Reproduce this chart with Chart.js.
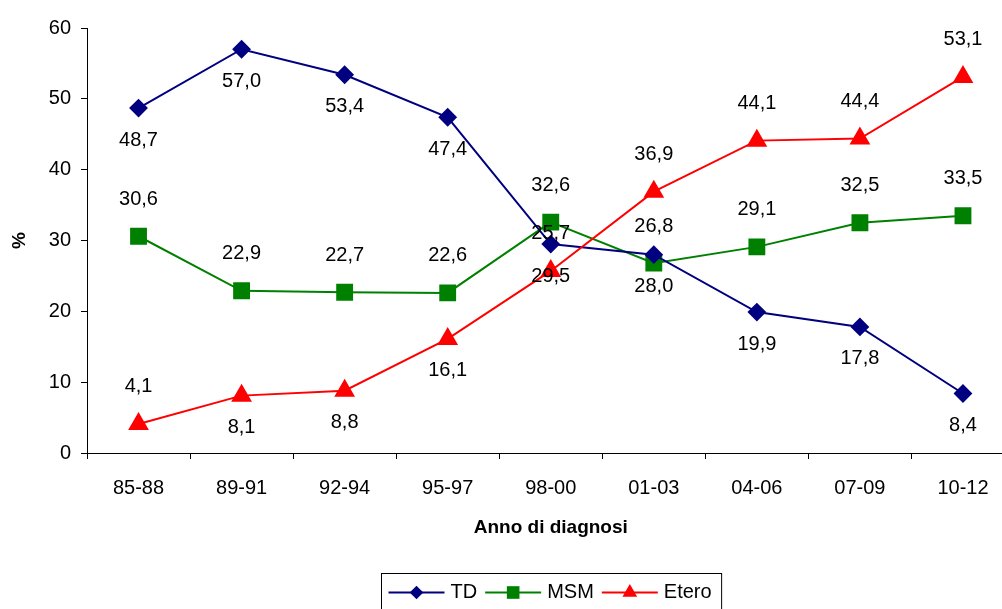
<!DOCTYPE html>
<html>
<head>
<meta charset="utf-8">
<script src="https://cdn.jsdelivr.net/npm/chart.js@4"></script>
<style>
  html, body { margin: 0; padding: 0; overflow: hidden; background: #fff; }
  #wrap { position: relative; width: 1002px; height: 609px; overflow: hidden; }
  #inner { position: absolute; left: 0; top: 0; width: 1100px; height: 609px; }
  #chart { display: block; }
</style>
</head>
<body>
<div id="wrap"><div id="inner"><canvas id="chart" width="1016" height="609"></canvas></div></div>
<script>
// data
const categories = ["85-88", "89-91", "92-94", "95-97", "98-00", "01-03", "04-06", "07-09", "10-12"];
const tdValues = [48.7, 57.0, 53.4, 47.4, 29.5, 28.0, 19.9, 17.8, 8.4];
const msmValues = [30.6, 22.9, 22.7, 22.6, 32.6, 26.8, 29.1, 32.5, 33.5];
const eteroValues = [4.1, 8.1, 8.8, 16.1, 25.7, 36.9, 44.1, 44.4, 53.1];
const yTicks = [0, 10, 20, 30, 40, 50, 60];

// where each value label sits relative to its point
const tdLabelSide = ["below", "below", "below", "below", "below", "below", "below", "below", "below"];
const msmLabelSide = ["above", "above", "above", "above", "above", "above", "above", "above", "above"];
const eteroLabelSide = ["above", "below", "below", "below", "above", "above", "above", "above", "above"];

const FONT = '"Liberation Sans", Arial, sans-serif';
Chart.defaults.font.family = FONT;
Chart.defaults.font.size = 20;
Chart.defaults.color = "#000";

// value labels (Excel style, comma decimal)
const valueLabels = {
    id: "valueLabels",
    afterDatasetsDraw(chart) {
        const ctx = chart.ctx;
        ctx.save();
        ctx.font = "20px " + FONT;
        ctx.fillStyle = "#000";
        ctx.textAlign = "center";
        ctx.textBaseline = "middle";
        chart.data.datasets.forEach((ds, i) => {
            const meta = chart.getDatasetMeta(i);
            meta.data.forEach((pt, j) => {
                const off = ds.labelSide[j] === "above" ? -37 : 32;
                ctx.fillText(ds.data[j].toFixed(1).replace(".", ","), pt.x, pt.y + off);
            });
        });
        ctx.restore();
    }
};

// boxed legend with line + marker samples, centred under the plot
const boxLegend = {
    id: "boxLegend",
    afterDraw(chart) {
        const ctx = chart.ctx;
        const area = chart.chartArea;
        ctx.save();
        ctx.font = "20px " + FONT;
        const lineLen = 56, gapText = 6, gapItem = 8, padL = 7, padR = 10;
        const items = chart.data.datasets.map(ds => ({ ds, w: ctx.measureText(ds.label).width }));
        let total = padL + padR + gapItem * (items.length - 1);
        items.forEach(it => { total += lineLen + gapText + it.w; });
        const left = Math.round((area.left + area.right) / 2 - total / 2) + 0.5;
        const top = chart.height - 36 + 0.5;
        ctx.strokeStyle = "#000";
        ctx.lineWidth = 1;
        ctx.strokeRect(left, top, total, 40);
        const cy = top + 19;
        let x = left + padL;
        items.forEach(it => {
            const ds = it.ds;
            ctx.strokeStyle = ds.borderColor;
            ctx.lineWidth = 2;
            ctx.beginPath();
            ctx.moveTo(x, cy);
            ctx.lineTo(x + lineLen, cy);
            ctx.stroke();
            ctx.fillStyle = ds.pointBackgroundColor;
            Chart.helpers.drawPoint(ctx, { pointStyle: ds.pointStyle, radius: ds.pointRadius * 0.85, rotation: 0, borderWidth: 0 }, x + lineLen / 2, cy);
            ctx.fillStyle = "#000";
            ctx.textBaseline = "middle";
            ctx.textAlign = "left";
            ctx.fillText(ds.label, x + lineLen + gapText, cy);
            x += lineLen + gapText + it.w + gapItem;
        });
        ctx.restore();
    }
};

const ctx = document.getElementById("chart").getContext("2d");
const chart = new Chart(ctx, {
    type: "line",
    data: {
        labels: categories,
        datasets: [{
            label: "TD",
            data: tdValues,
            labelSide: tdLabelSide,
            borderColor: "#000080",
            backgroundColor: "#000080",
            pointBackgroundColor: "#000080",
            pointBorderColor: "#000080",
            pointStyle: "rectRot",
            pointRadius: 8,
            borderWidth: 2,
            order: 1
        }, {
            label: "MSM",
            data: msmValues,
            labelSide: msmLabelSide,
            borderColor: "#008000",
            backgroundColor: "#008000",
            pointBackgroundColor: "#008000",
            pointBorderColor: "#008000",
            pointStyle: "rect",
            pointRadius: 10.5,
            borderWidth: 2,
            order: 2
        }, {
            label: "Etero",
            data: eteroValues,
            labelSide: eteroLabelSide,
            borderColor: "#ff0000",
            backgroundColor: "#ff0000",
            pointBackgroundColor: "#ff0000",
            pointBorderColor: "#ff0000",
            pointStyle: "triangle",
            pointRadius: 10,
            borderWidth: 2,
            order: 0
        }]
    },
    options: {
        responsive: false,
        maintainAspectRatio: false,
        animation: false,
        layout: { padding: { left: 8, right: 2, top: 28, bottom: 66 } },
        plugins: {
            legend: { display: false },
            tooltip: { enabled: false }
        },
        scales: {
            x: {
                type: "category",
                offset: true,
                grid: { display: true, offset: true, drawOnChartArea: false, drawTicks: true, tickLength: 6, color: "#000" },
                border: { color: "#000", width: 1 },
                ticks: { padding: 17, maxRotation: 0, font: { size: 20 } },
                title: { display: true, text: "Anno di diagnosi", font: { size: 19, weight: "bold" }, padding: { top: 14 } },
                afterFit(scale) { scale.height = 90; }
            },
            y: {
                min: 0,
                max: 60,
                afterBuildTicks(scale) { scale.ticks = yTicks.map(v => ({ value: v })); },
                grid: { display: true, drawOnChartArea: false, drawTicks: true, tickLength: 6, color: "#000" },
                border: { color: "#000", width: 1 },
                ticks: { padding: 10, font: { size: 20 } },
                title: { display: true, text: "%", font: { size: 19, weight: "bold" }, padding: { top: 0, bottom: 0 } },
                afterFit(scale) { scale.width = 79; }
            }
        }
    },
    plugins: [valueLabels, boxLegend]
});

// the plot in the reference runs past the right edge (last band ends near x=1014);
// widen the canvas by whatever Chart.js reserved for the last tick label
const wantRight = 1014;
const short = Math.round(wantRight - chart.chartArea.right);
if (short > 0) {
    chart.resize(chart.width + short, chart.height);
}
</script>
</body>
</html>
